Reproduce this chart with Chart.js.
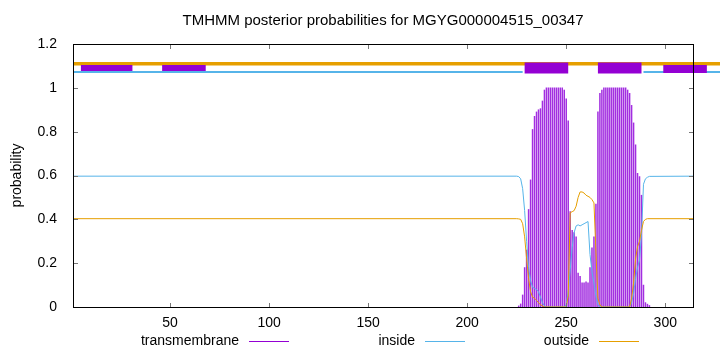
<html>
<head>
  <script src="https://cdn.jsdelivr.net/npm/chart.js@4/dist/chart.umd.min.js"></script>
  <style>
    body { margin: 0; background: #fff; }
    #wrap { position: relative; width: 720px; height: 352px; }
  </style>
</head>
<body>
  <div id="wrap"><canvas id="chart" width="720" height="352"></canvas></div>

  <script>
    // values (x = residue position)
    var chartTitle = "TMHMM posterior probabilities for MGYG000004515_00347";
    var xTicks = [50, 100, 150, 200, 250, 300];
    var yTicks = [0, 0.2, 0.4, 0.6, 0.8, 1, 1.2];

    // transmembrane posterior, only the non-zero part
    var transmembrane = [
      [226, 0.005], [227, 0.014], [228, 0.055], [229, 0.18], [230, 0.26], [231, 0.445],
      [232, 0.58], [233, 0.81], [234, 0.87], [235, 0.89], [236, 0.90], [237, 0.905],
      [238, 0.94], [239, 0.99], [240, 1], [241, 1], [242, 1], [243, 1], [244, 1],
      [245, 1], [246, 1], [247, 1], [248, 1], [249, 0.99], [250, 0.95], [251, 0.85],
      [252, 0.435], [253, 0.35], [254, 0.34], [255, 0.32], [256, 0.155], [257, 0.14],
      [258, 0.11], [259, 0.11], [260, 0.115], [261, 0.11], [262, 0.18], [263, 0.27],
      [264, 0.32], [265, 0.47], [266, 0.89], [267, 0.975], [268, 0.99], [269, 1],
      [270, 1], [271, 1], [272, 1], [273, 1], [274, 1], [275, 1], [276, 1], [277, 1],
      [278, 1], [279, 1], [280, 1], [281, 0.99], [282, 0.975], [283, 0.92], [284, 0.84],
      [285, 0.74], [286, 0.61], [287, 0.595], [288, 0.51], [289, 0.10], [290, 0.02],
      [291, 0.013], [292, 0.007]
    ];

    var inside = [
      [1, 0.597], [225, 0.597], [226, 0.595], [227, 0.585], [228, 0.54], [229, 0.44],
      [230, 0.30], [231, 0.18], [232, 0.12], [233, 0.09], [234, 0.085], [235, 0.08],
      [236, 0.07], [237, 0.045], [238, 0.02], [239, 0.005], [240, 0], [249, 0],
      [250, 0.01], [251, 0.07], [252, 0.17], [253, 0.27], [254, 0.34], [255, 0.37],
      [256, 0.375], [257, 0.37], [258, 0.375], [259, 0.38], [260, 0.385], [261, 0.39],
      [262, 0.24], [263, 0.16], [264, 0.11], [265, 0.05], [266, 0.01], [267, 0],
      [282, 0], [283, 0.02], [284, 0.06], [285, 0.13], [286, 0.18], [287, 0.215],
      [288, 0.33], [289, 0.56], [290, 0.585], [291, 0.592], [292, 0.596], [314, 0.597]
    ];

    var outside = [
      [1, 0.403], [225, 0.403], [226, 0.402], [227, 0.40], [228, 0.38], [229, 0.32],
      [230, 0.22], [231, 0.13], [232, 0.07], [233, 0.045], [234, 0.04], [235, 0.03],
      [236, 0.02], [237, 0.01], [238, 0.005], [239, 0], [250, 0], [251, 0.05],
      [252, 0.43], [253, 0.435], [254, 0.44], [255, 0.46], [256, 0.50], [257, 0.525],
      [258, 0.525], [259, 0.52], [260, 0.51], [261, 0.505], [262, 0.50], [263, 0.49],
      [264, 0.475], [265, 0.25], [266, 0.04], [267, 0.01], [268, 0], [282, 0],
      [283, 0.04], [284, 0.11], [285, 0.22], [286, 0.275], [287, 0.30], [288, 0.35],
      [289, 0.39], [290, 0.40], [291, 0.403], [314, 0.403]
    ];

    // topology strip above the curves: [from, to] residue ranges
    var topOutside = [[1, 332]];
    var topInside = [[1, 228], [289, 332]];
    var topTmWide = [[229, 251], [266, 288]];
    var topTmNarrow = [[5, 31], [46, 68]];
    var topTmEdge = [[299, 321]];

    var PURPLE = "#9400d3";
    var BLUE = "#56b4e9";
    var ORANGE = "#e69f00";
    var FONT = "'Liberation Sans', Arial, sans-serif";

    function pts(arr) {
      return arr.map(function(p) { return { x: p[0], y: p[1] }; });
    }
    function segs(ranges, level) {
      var out = [];
      ranges.forEach(function(r) {
        out.push({ x: r[0], y: level }, { x: r[1], y: level }, { x: r[1], y: null });
      });
      return out;
    }
    function strip(ranges, level, color, width) {
      return {
        type: "line",
        data: segs(ranges, level),
        borderColor: color,
        borderWidth: width,
        borderCapStyle: "butt",
        pointRadius: 0,
        spanGaps: false,
        clip: false
      };
    }

    // gnuplot-like frame, inward ticks, title, y label and key
    // (drawn with fillRect, plain strokes came out missing here)
    var gnuplotLook = {
      id: "gnuplotLook",
      afterDraw: function(chart) {
        var g = chart.ctx, a = chart.chartArea;
        var xs = chart.scales.x, ys = chart.scales.y;
        var l = Math.round(a.left), r = Math.round(a.right);
        var t = Math.round(a.top), b = Math.round(a.bottom);
        g.save();

        g.fillStyle = "#777";
        xTicks.forEach(function(v) {
          var px = Math.round(xs.getPixelForValue(v));
          g.fillRect(px, b - 4, 1, 4);
          g.fillRect(px, t + 1, 1, 4);
        });
        yTicks.forEach(function(v) {
          var py = Math.round(ys.getPixelForValue(v));
          g.fillRect(l + 1, py, 4, 1);
          g.fillRect(r - 4, py, 4, 1);
        });

        g.fillStyle = "#000";
        g.fillRect(l, t, r - l + 1, 1);
        g.fillRect(l, b, r - l + 1, 1);
        g.fillRect(l, t, 1, b - t + 1);
        g.fillRect(r, t, 1, b - t + 1);

        g.font = "15px " + FONT;
        g.textAlign = "center";
        g.textBaseline = "middle";
        g.fillText(chartTitle, (a.left + a.right) / 2, 21);

        g.font = "14px " + FONT;
        g.save();
        g.translate(17, (a.top + a.bottom) / 2);
        g.rotate(-Math.PI / 2);
        g.fillText("probability", 0, 0);
        g.restore();

        var key = [
          ["transmembrane", PURPLE, 239],
          ["inside", BLUE, 415],
          ["outside", ORANGE, 589]
        ];
        g.textAlign = "right";
        key.forEach(function(k) {
          g.fillStyle = "#000";
          g.fillText(k[0], k[2], 341);
          g.fillStyle = k[1];
          g.fillRect(k[2] + 10, 341, 40, 1);
        });
        g.restore();
      }
    };

    var chart = new Chart(document.getElementById("chart"), {
      data: {
        datasets: [
          strip(topTmWide, 1.091, PURPLE, 11),
          strip(topTmNarrow, 1.0905, PURPLE, 6),
          strip(topTmEdge, 1.086, PURPLE, 8),
          strip(topInside, 1.0717, BLUE, 2),
          strip(topOutside, 1.1096, ORANGE, 3.5),
          {
            type: "line",
            label: "outside",
            data: pts(outside),
            borderColor: ORANGE,
            borderWidth: 1,
            pointRadius: 0,
            tension: 0
          },
          {
            type: "line",
            label: "inside",
            data: pts(inside),
            borderColor: BLUE,
            borderWidth: 1,
            pointRadius: 0,
            tension: 0
          },
          {
            type: "bar",
            label: "transmembrane",
            data: pts(transmembrane),
            backgroundColor: "#a22ee0",
            barThickness: 0.85
          }
        ]
      },
      options: {
        responsive: false,
        animation: false,
        layout: { padding: { top: 44, right: 27, left: 0, bottom: 0 } },
        plugins: {
          legend: { display: false },
          title: { display: false },
          tooltip: { enabled: false }
        },
        scales: {
          x: {
            type: "linear",
            offset: false,
            min: 1,
            max: 314,
            grid: { display: false, offset: false },
            border: { display: false },
            afterFit: function(s) { s.height = 45; },
            afterBuildTicks: function(s) {
              s.ticks = xTicks.map(function(v) { return { value: v }; });
            },
            ticks: {
              padding: 0,
              color: "#000",
              maxRotation: 0,
              font: { family: FONT, size: 14 }
            }
          },
          y: {
            type: "linear",
            min: 0,
            max: 1.2,
            grid: { display: false },
            border: { display: false },
            afterFit: function(s) { s.width = 73; },
            afterBuildTicks: function(s) {
              s.ticks = yTicks.map(function(v) { return { value: v }; });
            },
            ticks: {
              padding: 8,
              color: "#000",
              font: { family: FONT, size: 14 },
              callback: function(v) { return String(v); }
            }
          }
        }
      },
      plugins: [gnuplotLook]
    });
  </script>
</body>
</html>
